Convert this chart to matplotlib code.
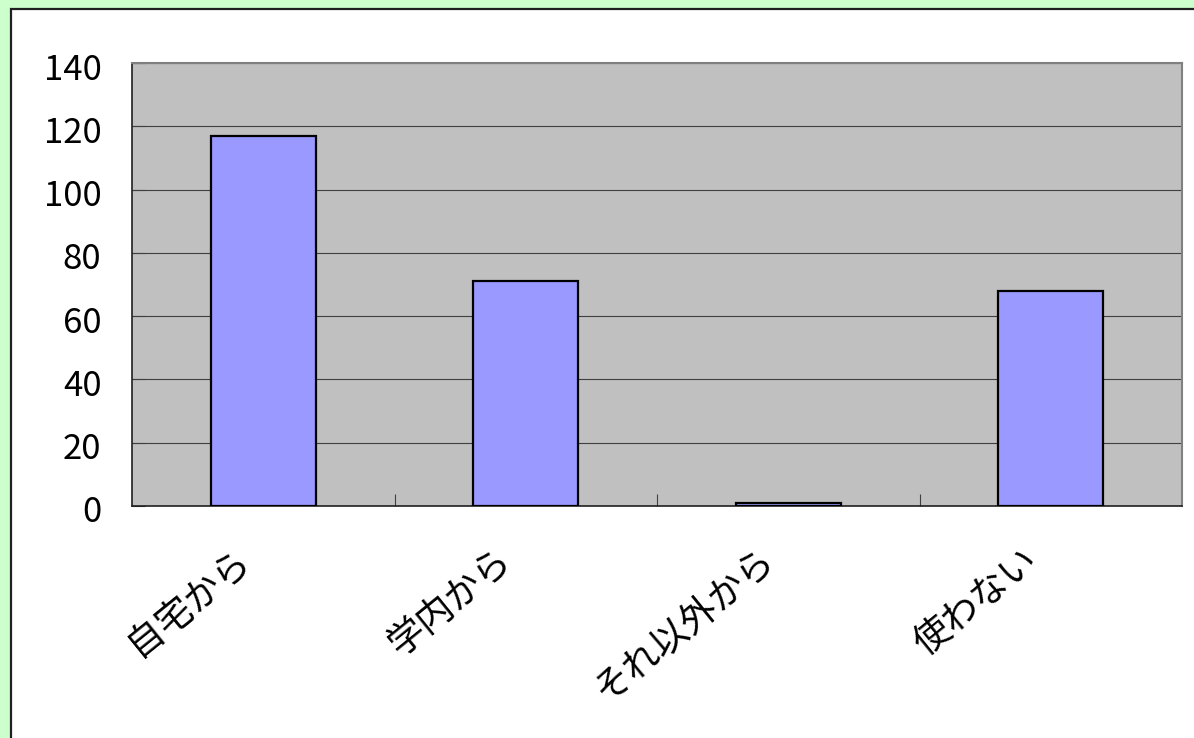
import matplotlib
matplotlib.use("Agg")
import matplotlib.pyplot as plt
from matplotlib.patches import Rectangle
from matplotlib.transforms import ScaledTranslation

plt.rcParams['font.family'] = ['Noto Sans CJK JP', 'DejaVu Sans']

categories = ["自宅から", "学内から", "それ以外から", "使わない"]
values = [117, 71, 1, 68]
yticks = [0, 20, 40, 60, 80, 100, 120, 140]

W, H = 1194, 738
fig = plt.figure(figsize=(W / 100, H / 100), dpi=100, facecolor='#CCFFCC')

# outer chart area (white with dark border)
fig.patches.append(Rectangle((10.5 / W, -0.1), 1.2, (H - 9.5) / H + 0.1,
                             transform=fig.transFigure, facecolor='white',
                             edgecolor='#202020', linewidth=1.6, zorder=-10))

ax = fig.add_axes([132 / W, (H - 506) / H, 1050 / W, 443 / H])
ax.set_zorder(5)
ax.set_facecolor('#C0C0C0')

x = list(range(len(categories)))
ax.bar(x, values, width=0.4, color='#9999FF', edgecolor='black', linewidth=1.6, zorder=3)

ax.set_xlim(-0.5, len(categories) - 0.5)
ax.set_ylim(0, 140)
ax.set_yticks(yticks)
ax.yaxis.grid(True, color='#404040', linewidth=0.8, zorder=1)
ax.set_axisbelow(True)

ax.set_xticks([0.5, 1.5, 2.5])
ax.set_xticklabels([])
ax.tick_params(axis='x', direction='in', length=9, width=0.8, color='#404040')
ax.tick_params(axis='y', direction='in', length=9, width=0.8, color='#404040',
               labelsize=25, pad=22)
ydown = ScaledTranslation(0, -3 / 100, fig.dpi_scale_trans)
for lbl in ax.get_yticklabels():
    lbl.set_transform(lbl.get_transform() + ydown)

off = ScaledTranslation(-30 / 100, -35 / 100, fig.dpi_scale_trans)
for xi, lab in zip(x, categories):
    ax.text(xi, 0, lab, transform=ax.get_xaxis_transform() + off,
            rotation=39, ha='right', va='top', rotation_mode='anchor',
            fontsize=26.5, color='black')

for s in ['top', 'right']:
    ax.spines[s].set_color('#808080')
    ax.spines[s].set_linewidth(1.5)
for s in ['left', 'bottom']:
    ax.spines[s].set_color('#202020')
    ax.spines[s].set_linewidth(1.2)

fig.savefig('out.png', dpi=100, facecolor=fig.get_facecolor())
